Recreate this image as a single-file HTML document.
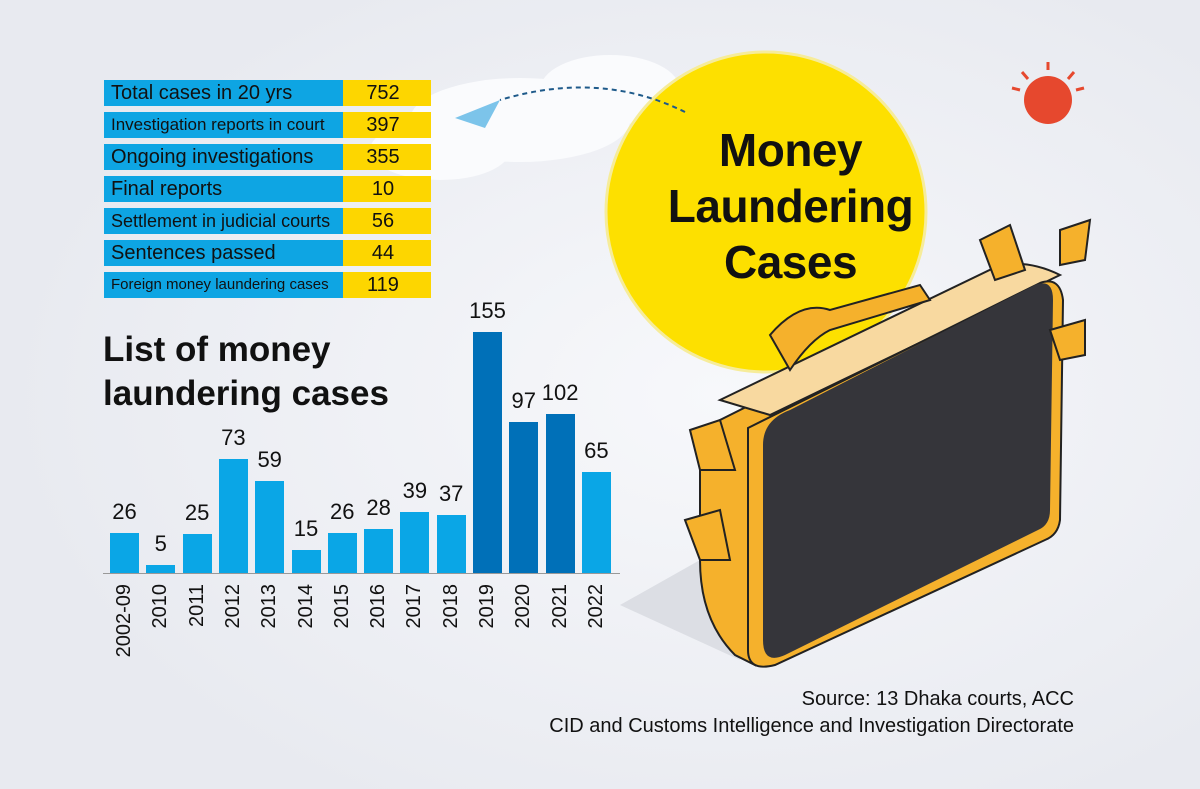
<!DOCTYPE html>
<html><head><meta charset="utf-8"><style>
*{margin:0;padding:0;box-sizing:border-box}
body{width:1200px;height:789px;overflow:hidden;background:#eef0f5;font-family:"Liberation Sans",sans-serif;position:relative}
.abs{position:absolute}
.row{position:absolute;left:104px;width:327px;height:26px;display:flex}
.row .l{width:239px;background:#0ea5e3;color:#111;font-size:19px;line-height:26px;padding-left:7px;white-space:nowrap;overflow:hidden}
.row .r{flex:1;background:#fdd600;color:#111;font-size:20px;line-height:26px;text-align:center;padding-right:8px}
.bar{position:absolute;width:29px;background:#0aa6e6}
.dk{background:#0070b8}
.val{position:absolute;width:60px;text-align:center;font-size:22px;color:#111}
.yr{position:absolute;font-size:20px;color:#111;transform-origin:0 0;transform:rotate(-90deg);white-space:nowrap;text-align:right;width:90px}
</style></head><body>
<svg class="abs" style="left:0;top:0" width="1200" height="789">
<defs><radialGradient id="bg" cx="0.6" cy="0.5" r="0.6"><stop offset="0" stop-color="#f7f8fb"/><stop offset="1" stop-color="#e8eaf0"/></radialGradient></defs>
<rect width="1200" height="789" fill="url(#bg)"/>
<g fill="#fafbfd"><ellipse cx="520" cy="120" rx="110" ry="42"/><ellipse cx="440" cy="150" rx="70" ry="30"/><ellipse cx="610" cy="90" rx="70" ry="35"/></g>
<circle cx="766" cy="212" r="160" fill="#fde000" stroke="#f6ec9a" stroke-width="3"/>
<path d="M685 112 Q600 70 500 100" fill="none" stroke="#1e5a8a" stroke-width="2" stroke-dasharray="5,4"/>
<polygon points="455,118 500,100 485,128" fill="#7cc4ea"/>
<circle cx="1048" cy="100" r="24" fill="#e6482e"/>
<g stroke="#e6482e" stroke-width="3"><line x1="1048" y1="62" x2="1048" y2="70"/><line x1="1022" y1="72" x2="1028" y2="79"/><line x1="1074" y1="72" x2="1068" y2="79"/><line x1="1012" y1="88" x2="1020" y2="90"/><line x1="1084" y1="88" x2="1076" y2="90"/></g>
<polygon points="620,605 700,560 740,660" fill="#dcdee4"/>
<path d="M700 430 L980 290 Q1010 280 1040 280 L1045 290 L760 430 L755 665 L735 655 Q700 620 700 560 Z" fill="#f5b12c" stroke="#222" stroke-width="2"/>
<path d="M720 400 L1000 265 Q1030 260 1060 275 L770 415 Z" fill="#f8d9a0" stroke="#222" stroke-width="2"/>
<path d="M770 335 Q800 300 830 310 L920 285 L930 300 L830 330 Q810 340 790 370 Z" fill="#f5b12c" stroke="#222" stroke-width="2"/>
<path d="M748 428 L1040 283 Q1060 276 1063 300 L1060 520 Q1058 535 1045 540 L775 665 Q748 672 748 650 Z" fill="#f5b12c" stroke="#222" stroke-width="2"/>
<path d="M763 445 Q763 420 790 410 L1035 285 Q1053 278 1053 300 L1050 510 Q1050 525 1038 530 L785 655 Q763 665 763 640 Z" fill="#35353a"/>
<g fill="#f5b12c" stroke="#222" stroke-width="2"><path d="M690 430 L720 420 L735 470 L700 470 Z"/><path d="M685 520 L720 510 L730 560 L700 560 Z"/><path d="M1050 330 L1085 320 L1085 355 L1060 360 Z"/><path d="M1060 230 L1090 220 L1085 260 L1060 265 Z"/><path d="M980 240 L1010 225 L1025 270 L995 280 Z"/></g>
</svg>
<div class="row" style="top:80px"><div class="l" style="font-size:20px">Total cases in 20 yrs</div><div class="r">752</div></div>
<div class="row" style="top:112px"><div class="l" style="font-size:17px">Investigation reports in court</div><div class="r">397</div></div>
<div class="row" style="top:144px"><div class="l" style="font-size:20px">Ongoing investigations</div><div class="r">355</div></div>
<div class="row" style="top:176px"><div class="l" style="font-size:20px">Final reports</div><div class="r">10</div></div>
<div class="row" style="top:208px"><div class="l" style="font-size:18px">Settlement in judicial courts</div><div class="r">56</div></div>
<div class="row" style="top:240px"><div class="l" style="font-size:20px">Sentences passed</div><div class="r">44</div></div>
<div class="row" style="top:272px"><div class="l" style="font-size:15px">Foreign money laundering cases</div><div class="r">119</div></div>
<div class="abs" style="left:103px;top:328px;font-size:35px;font-weight:bold;line-height:44px;color:#111">List of money<br>laundering cases</div>
<div class="abs" style="left:613px;top:122px;width:355px;text-align:center;font-size:46px;font-weight:bold;line-height:56px;color:#111;letter-spacing:-0.5px">Money<br>Laundering<br>Cases</div>
<div class="abs" style="left:103px;top:573px;width:517px;height:1px;background:#999"></div>
<div id="chart"></div>
<div class="abs" style="right:126px;top:686px;text-align:right;font-size:20px;line-height:27px;color:#111">Source: 13 Dhaka courts, ACC<br>CID and Customs Intelligence and Investigation Directorate</div>
<script>
var d=[["2002-09",26],["2010",5],["2011",25],["2012",73],["2013",59],["2014",15],["2015",26],["2016",28],["2017",39],["2018",37],["2019",155,1],["2020",97,1],["2021",102,1],["2022",65]];
var h='';d.forEach(function(e,i){var x=110+36.3*i,ht=e[1]*1.555,t=573-ht;
h+='<div class="bar'+(e[2]?' dk':'')+'" style="left:'+x+'px;top:'+t+'px;height:'+ht+'px"></div>';
h+='<div class="val" style="left:'+(x-15.5)+'px;top:'+(t-34)+'px">'+e[1]+'</div>';
h+='<div class="yr" style="left:'+(x+3)+'px;top:'+(584+90)+'px">'+e[0]+'</div>';});
document.getElementById('chart').innerHTML=h;
</script>
</body></html>
